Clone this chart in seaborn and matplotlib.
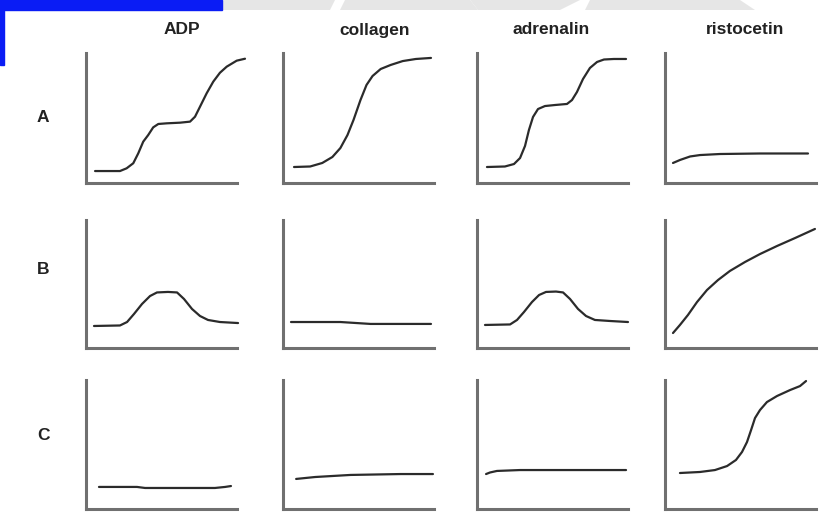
import matplotlib
matplotlib.use("Agg")
import matplotlib.pyplot as plt
import seaborn as sns
import pandas as pd
from matplotlib.patches import Rectangle, Polygon

sns.set_style("white")
plt.rcParams['font.family'] = ['Liberation Sans', 'DejaVu Sans']

agonists = ["ADP", "collagen", "adrenalin", "ristocetin"]
rows = ["A", "B", "C"]

# Aggregation traces (time 0-100, light transmission 0-100)
A_ADP_t = [6, 22.5, 26.9, 31.3, 34.6, 37.9, 41.2, 44.5, 47.9, 53.4, 62.3, 68.9, 72.2, 75.5, 79.9, 84.3, 88.7, 93.2, 99.8, 105.3]
A_ADP_v = [9.2, 9.2, 11.3, 15.2, 22.8, 31.8, 36.9, 42.8, 45.4, 45.9, 46.4, 47.2, 51, 58.7, 69, 78, 84.8, 89.5, 94.1, 95.6]
A_COL_t = [7.3, 18, 26, 32.7, 38, 42.7, 46.7, 51.3, 55.3, 59.3, 64.7, 71.3, 79.3, 88, 98]
A_COL_v = [12.3, 12.7, 15.4, 20, 26.9, 36.9, 48.5, 63.8, 75.4, 82.3, 87.7, 90.8, 93.8, 95.4, 96.2]
A_ADR_t = [6.6, 18.5, 24.5, 28.5, 31.8, 34.4, 37.1, 40.4, 45, 51.7, 59.6, 62.9, 66.2, 70.2, 74.8, 79.5, 84.1, 90.7, 98.7]
A_ADR_v = [12.3, 12.7, 14.6, 19.2, 28.5, 40.8, 50.8, 56.9, 59.2, 60, 60.8, 63.8, 70, 80, 88.5, 93.1, 95, 95.4, 95.4]
A_RIS_t = [5.3, 9.9, 16.6, 23.2, 36.4, 62.9, 94.7]
A_RIS_v = [15.4, 17.7, 20.4, 21.5, 22.3, 22.7, 22.7]

B_ADP_t = [5.3, 22.5, 27.2, 31.8, 37.1, 42.4, 47, 54.3, 60.3, 64.9, 70.2, 75.5, 80.8, 88.7, 100.7]
B_ADP_v = [17.2, 17.6, 20.3, 26.6, 34.4, 40.6, 43.4, 43.8, 43.4, 38.3, 30.5, 25, 21.9, 20.3, 19.5]
B_COL_t = [5.3, 38, 58, 98]
B_COL_v = [20.3, 20.3, 18.8, 18.8]
B_ADR_t = [5.3, 21.9, 26.5, 31.1, 36.4, 41.1, 45.7, 52.3, 57, 61.6, 66.9, 72.2, 78.1, 88.1, 100]
B_ADR_v = [18, 18.4, 21.9, 28.1, 35.9, 41.4, 43.8, 44.1, 43.4, 38.3, 30.5, 25, 21.9, 21.1, 20.3]
B_RIS_t = [5.3, 9.9, 15.2, 21.2, 27.8, 35.1, 43, 53, 62.9, 74.2, 86.1, 99.3]
B_RIS_v = [11.7, 18, 25.8, 35.9, 45.3, 53.1, 60.2, 67.2, 73.4, 79.7, 85.9, 93]

C_ADP_t = [8.6, 33.8, 39.1, 85.4, 92.1, 96]
C_ADP_v = [17.1, 17.1, 16.3, 16.3, 17.1, 17.8]
C_COL_t = [8.7, 21.3, 44.7, 78, 99.3]
C_COL_v = [23.3, 24.8, 26.4, 27.1, 27.1]
C_ADR_t = [6, 8.6, 13.2, 28.5, 68.2, 98.7]
C_ADR_v = [27.1, 28.3, 29.5, 30.2, 30.2, 30.2]
C_RIS_t = [9.9, 23.2, 33.1, 41.1, 47, 51, 54.3, 57, 59.6, 62.9, 67.5, 74.2, 82.8, 89.4, 93.4]
C_RIS_v = [27.9, 28.7, 30.2, 33.3, 38, 44.2, 51.9, 61.2, 70.5, 76.7, 82.9, 87.6, 92.2, 95.3, 99.2]

traces = [
    [(A_ADP_t, A_ADP_v), (A_COL_t, A_COL_v), (A_ADR_t, A_ADR_v), (A_RIS_t, A_RIS_v)],
    [(B_ADP_t, B_ADP_v), (B_COL_t, B_COL_v), (B_ADR_t, B_ADR_v), (B_RIS_t, B_RIS_v)],
    [(C_ADP_t, C_ADP_v), (C_COL_t, C_COL_v), (C_ADR_t, C_ADR_v), (C_RIS_t, C_RIS_v)],
]

W, H = 833, 519
fig = plt.figure(figsize=(W / 100, H / 100), dpi=100)
fig.patch.set_facecolor("white")

col_left = [86, 283, 477, 665]
col_w = 151
row_top = [53, 220, 380]
row_bot = [183, 348, 509]

axis_color = "#707070"
line_color = "#2b2b2b"

for r in range(3):
    for c in range(4):
        l = col_left[c] / W
        b = 1 - row_bot[r] / H
        h = (row_bot[r] - row_top[r]) / H
        ax = fig.add_axes([l, b, col_w / W, h])
        t, v = traces[r][c]
        df = pd.DataFrame({"time": t, "aggregation": v})
        sns.lineplot(data=df, x="time", y="aggregation", ax=ax, color=line_color,
                     linewidth=1.6, sort=False, estimator=None)
        for ln in ax.lines:
            ln.set_clip_on(False)
            ln.set_solid_joinstyle("round")
            ln.set_solid_capstyle("round")
        ax.set_xlim(0, 100)
        ax.set_ylim(0, 100)
        ax.set_xticks([])
        ax.set_yticks([])
        ax.set_xlabel("")
        ax.set_ylabel("")
        ax.patch.set_alpha(0)
        for s in ["top", "right"]:
            ax.spines[s].set_visible(False)
        for s in ["left", "bottom"]:
            ax.spines[s].set_color(axis_color)
            ax.spines[s].set_linewidth(2.2)
            ax.spines[s].set_capstyle("projecting")

title_x = [182, 375, 551, 745]
for name, x in zip(agonists, title_x):
    fig.text(x / W, 1 - 30 / H, name, ha="center", va="center",
             fontsize=12.5, fontweight="bold", color="#222222")

label_y = [117, 270, 435]
for name, y in zip(rows, label_y):
    fig.text(43 / W, 1 - y / H, name, ha="center", va="center",
             fontsize=12.5, fontweight="bold", color="#222222")

# slide decorations: blue banner and light grey stripes
def px_rect(x0, y0, x1, y1, color):
    fig.patches.append(Rectangle((x0 / W, 1 - y1 / H), (x1 - x0) / W, (y1 - y0) / H,
                                 transform=fig.transFigure, color=color, zorder=5))

def px_poly(pts, color):
    fig.patches.append(Polygon([(x / W, 1 - y / H) for x, y in pts], closed=True,
                               transform=fig.transFigure, color=color, zorder=4, lw=0))

px_poly([(222, 0), (335, 0), (330, 10), (222, 10)], "#e6e6e6")
px_poly([(345, 0), (470, 0), (478, 10), (340, 10)], "#e6e6e6")
px_poly([(470, 0), (580, 0), (560, 10), (478, 10)], "#e6e6e6")
px_poly([(590, 0), (740, 0), (755, 10), (585, 10)], "#e6e6e6")
px_rect(0, 0, 222, 10, "#0a1cf5")
px_rect(0, 0, 4, 65, "#0a1cf5")

fig.savefig("out.png", dpi=100)
